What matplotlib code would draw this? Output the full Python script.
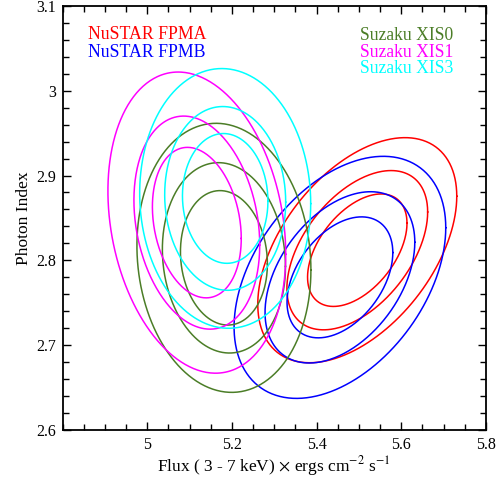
import numpy as np
import matplotlib
matplotlib.use("Agg")
import matplotlib.pyplot as plt
from matplotlib.ticker import MultipleLocator, FixedLocator, FuncFormatter

# Instruments (confidence contours: outer = 99%, then 90%, 68%)
names = ["NuSTAR FPMA", "NuSTAR FPMB", "Suzaku XIS0", "Suzaku XIS1", "Suzaku XIS3"]
colors = ["#ff0000", "#0000ff", "#4b7d27", "#ff00ff", "#00ffff"]
center_flux = [5.496, 5.455, 5.181, 5.117, 5.184]
center_index = [2.812, 2.780, 2.803, 2.8445, 2.873]
half_flux = [0.235, 0.250, 0.2055, 0.210, 0.202]      # outer-contour half extent in flux
half_index = [0.1326, 0.1426, 0.1585, 0.1774, 0.153]  # outer-contour half extent in index
correlation = [0.48, 0.41, -0.09, -0.21, -0.04]
level_scale = [1.0, 0.7075, 0.4997]

xticks = [5.0, 5.2, 5.4, 5.6, 5.8]
yticks = [2.6, 2.7, 2.8, 2.9, 3.0, 3.1]

plt.rcParams['font.family'] = ['Liberation Serif', 'DejaVu Serif']
plt.rcParams['mathtext.fontset'] = 'stix'

fig = plt.figure(figsize=(5.01, 4.79), dpi=100)
ax = fig.add_axes([0.125, 0.102, 0.845, 0.886])

t = np.linspace(0, 2 * np.pi, 400)
for cx, cy, a, b, rho, col in zip(center_flux, center_index, half_flux, half_index, correlation, colors):
    for s in level_scale:
        x = cx + s * a * np.cos(t)
        y = cy + s * b * (rho * np.cos(t) + np.sqrt(1 - rho ** 2) * np.sin(t))
        ax.plot(x, y, color=col, lw=1.1)

ax.set_xlim(4.8, 5.8)
ax.set_ylim(2.6, 3.1)
ax.xaxis.set_major_locator(FixedLocator(xticks))
ax.yaxis.set_major_locator(FixedLocator(yticks))
ax.xaxis.set_minor_locator(MultipleLocator(0.05))
ax.yaxis.set_minor_locator(MultipleLocator(0.02))
fmt = FuncFormatter(lambda v, p: "%g" % round(v, 3))
ax.xaxis.set_major_formatter(fmt)
ax.yaxis.set_major_formatter(fmt)
ax.tick_params(which='both', direction='in', top=True, right=True, labelsize=11.5, pad=5)
ax.tick_params(which='major', length=6, width=1.0)
ax.tick_params(which='minor', length=4, width=1.0)
for sp in ax.spines.values():
    sp.set_linewidth(1.3)

ax.set_xlabel(r"Flux ( 3 - 7 keV) $\times$ ergs cm$^{-2}$ s$^{-1}$", fontsize=12.5, labelpad=1)
ax.set_ylabel("Photon Index", fontsize=12.5, labelpad=3)

# Legend text
left_x = 0.060
right_x = 0.702
ax.text(left_x, 0.9215, names[0], color=colors[0], fontsize=12.8, transform=ax.transAxes, va='baseline')
ax.text(left_x, 0.879, names[1], color=colors[1], fontsize=12.8, transform=ax.transAxes, va='baseline')
ax.text(right_x, 0.919, names[2], color=colors[2], fontsize=12.7, transform=ax.transAxes, va='baseline')
ax.text(right_x, 0.879, names[3], color=colors[3], fontsize=12.7, transform=ax.transAxes, va='baseline')
ax.text(right_x, 0.841, names[4], color=colors[4], fontsize=12.7, transform=ax.transAxes, va='baseline')

fig.savefig("out.png", dpi=100)
